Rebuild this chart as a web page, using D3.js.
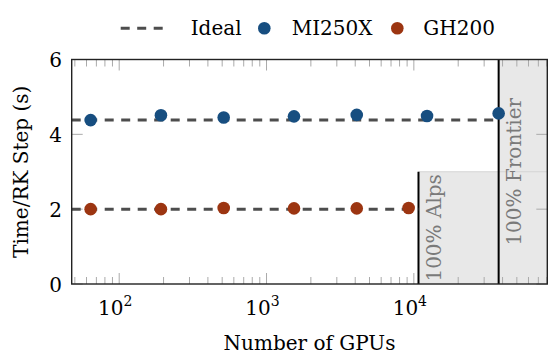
<!DOCTYPE html>
<html>
<head>
<meta charset="utf-8">
<script src="https://cdn.jsdelivr.net/npm/d3@7"></script>
<style>
  html, body { margin: 0; padding: 0; background: #fff; }
  svg { display: block; }
</style>
</head>
<body>
<div id="chart"></div>
<script>
// GPU counts per run
const gpusMI = [64, 192, 512, 1536, 4096, 12288, 37632];
const timeMI = [4.38, 4.51, 4.45, 4.48, 4.52, 4.49, 4.56];
const gpusGH = [64, 192, 512, 1536, 4096, 9216];
const timeGH = [2.00, 2.00, 2.03, 2.02, 2.02, 2.03];

const idealMI = 4.38;
const idealGH = 2.00;

// full machine sizes
const systems = ['Alps', 'Frontier'];
const systemGpus = [10752, 37632];
const systemHeight = [3, 6];

const xMajor = [100, 1000, 10000];
const xMajorExp = ['2', '3', '4'];
const yTicks = [0, 2, 4, 6];

const seriesNames = ['Ideal', 'MI250X', 'GH200'];
const colMI = '#174e80';
const colGH = '#9c3511';
const colIdeal = '#4d4d4d';

const W = 548, H = 356;
const m = { left: 71.7, right: 547.3, top: 59.5, bottom: 284 };
const FONT = "'DejaVu Serif', serif";

const x = d3.scaleLog().domain([47.6, 80500]).range([m.left, m.right]);
const y = d3.scaleLinear().domain([0, 6]).range([m.bottom, m.top]);

const svg = d3.select('#chart').append('svg')
    .attr('width', W).attr('height', H)
    .style('font-family', FONT);

// shaded full-system regions
systems.forEach((s, i) => {
    svg.append('rect')
        .attr('x', x(systemGpus[i]))
        .attr('y', y(systemHeight[i]))
        .attr('width', m.right - x(systemGpus[i]))
        .attr('height', y(0) - y(systemHeight[i]))
        .attr('fill', '#e8e8e8');
});
svg.append('line')
    .attr('x1', x(systemGpus[0])).attr('x2', m.right)
    .attr('y1', y(systemHeight[0])).attr('y2', y(systemHeight[0]))
    .attr('stroke', '#d4d4d4').attr('stroke-width', 1);

// ticks (inside, on all four sides)
const minor = x.ticks().filter(v => !xMajor.includes(v));
const tickCol = '#aaaaaa';
const g = svg.append('g').attr('stroke', tickCol).attr('stroke-width', 1);
minor.forEach(v => {
    g.append('line').attr('x1', x(v)).attr('x2', x(v)).attr('y1', m.bottom).attr('y2', m.bottom - 7);
    g.append('line').attr('x1', x(v)).attr('x2', x(v)).attr('y1', m.top).attr('y2', m.top + 7);
});
xMajor.forEach(v => {
    g.append('line').attr('x1', x(v)).attr('x2', x(v)).attr('y1', m.bottom).attr('y2', m.bottom - 11);
    g.append('line').attr('x1', x(v)).attr('x2', x(v)).attr('y1', m.top).attr('y2', m.top + 11);
});
yTicks.forEach(v => {
    g.append('line').attr('x1', m.left).attr('x2', m.left + 11).attr('y1', y(v)).attr('y2', y(v));
    g.append('line').attr('x1', m.right).attr('x2', m.right - 11).attr('y1', y(v)).attr('y2', y(v));
});

// system boundary lines
systems.forEach((s, i) => {
    svg.append('line')
        .attr('x1', x(systemGpus[i])).attr('x2', x(systemGpus[i]))
        .attr('y1', y(0)).attr('y2', y(systemHeight[i]))
        .attr('stroke', '#000').attr('stroke-width', 2);
});

// rotated system labels
const labelX = [441, 521];
systems.forEach((s, i) => {
    svg.append('text')
        .attr('transform', `translate(${labelX[i]},${(y(0) + y(systemHeight[i])) / 2}) rotate(-90)`)
        .attr('text-anchor', 'middle')
        .attr('font-size', 20)
        .attr('fill', '#7a7a7a')
        .text(`100% ${s}`);
});

// ideal scaling lines
const ideal = [[idealMI, systemGpus[1]], [idealGH, systemGpus[0]]];
ideal.forEach(([v, end]) => {
    svg.append('line')
        .attr('x1', m.left).attr('x2', x(end))
        .attr('y1', y(v)).attr('y2', y(v))
        .attr('stroke', colIdeal).attr('stroke-width', 3)
        .attr('stroke-dasharray', '9,7.5');
});

// frame
svg.append('rect')
    .attr('x', m.left).attr('y', m.top)
    .attr('width', m.right - m.left).attr('height', m.bottom - m.top)
    .attr('fill', 'none').attr('stroke', '#222').attr('stroke-width', 1.4);

// markers
svg.append('g').selectAll('circle')
    .data(gpusGH.map((d, i) => [d, timeGH[i]]))
    .join('circle')
    .attr('cx', d => x(d[0])).attr('cy', d => y(d[1]))
    .attr('r', 6.3).attr('fill', colGH);
svg.append('g').selectAll('circle')
    .data(gpusMI.map((d, i) => [d, timeMI[i]]))
    .join('circle')
    .attr('cx', d => x(d[0])).attr('cy', d => y(d[1]))
    .attr('r', 6.3).attr('fill', colMI);

// tick labels
xMajor.forEach((v, i) => {
    const t = svg.append('text')
        .attr('x', x(v) - 4).attr('y', 315)
        .attr('text-anchor', 'middle')
        .attr('font-size', 20);
    t.append('tspan').text('10');
    t.append('tspan').attr('dy', -9).attr('font-size', 14).text(xMajorExp[i]);
});
yTicks.forEach(v => {
    svg.append('text')
        .attr('x', 62).attr('y', y(v) + 7.5)
        .attr('text-anchor', 'end')
        .attr('font-size', 20)
        .text(v);
});

// axis titles
svg.append('text')
    .attr('x', (m.left + m.right) / 2).attr('y', 350)
    .attr('text-anchor', 'middle')
    .attr('font-size', 20)
    .text('Number of GPUs');
svg.append('text')
    .attr('transform', `translate(28,${(m.top + m.bottom) / 2}) rotate(-90)`)
    .attr('text-anchor', 'middle')
    .attr('font-size', 20)
    .text('Time/RK Step (s)');

// legend
const leg = svg.append('g').attr('font-size', 20);
leg.append('line')
    .attr('x1', 120.7).attr('x2', 163.3).attr('y1', 28.3).attr('y2', 28.3)
    .attr('stroke', colIdeal).attr('stroke-width', 3).attr('stroke-dasharray', '9,7.5');
leg.append('circle').attr('cx', 264.3).attr('cy', 28.3).attr('r', 6.3).attr('fill', colMI);
leg.append('circle').attr('cx', 397.3).attr('cy', 28.3).attr('r', 6.3).attr('fill', colGH);
const legX = [190.7, 291.7, 423.3];
seriesNames.forEach((n, i) => {
    leg.append('text').attr('x', legX[i]).attr('y', 35).text(n);
});
</script>
</body>
</html>
